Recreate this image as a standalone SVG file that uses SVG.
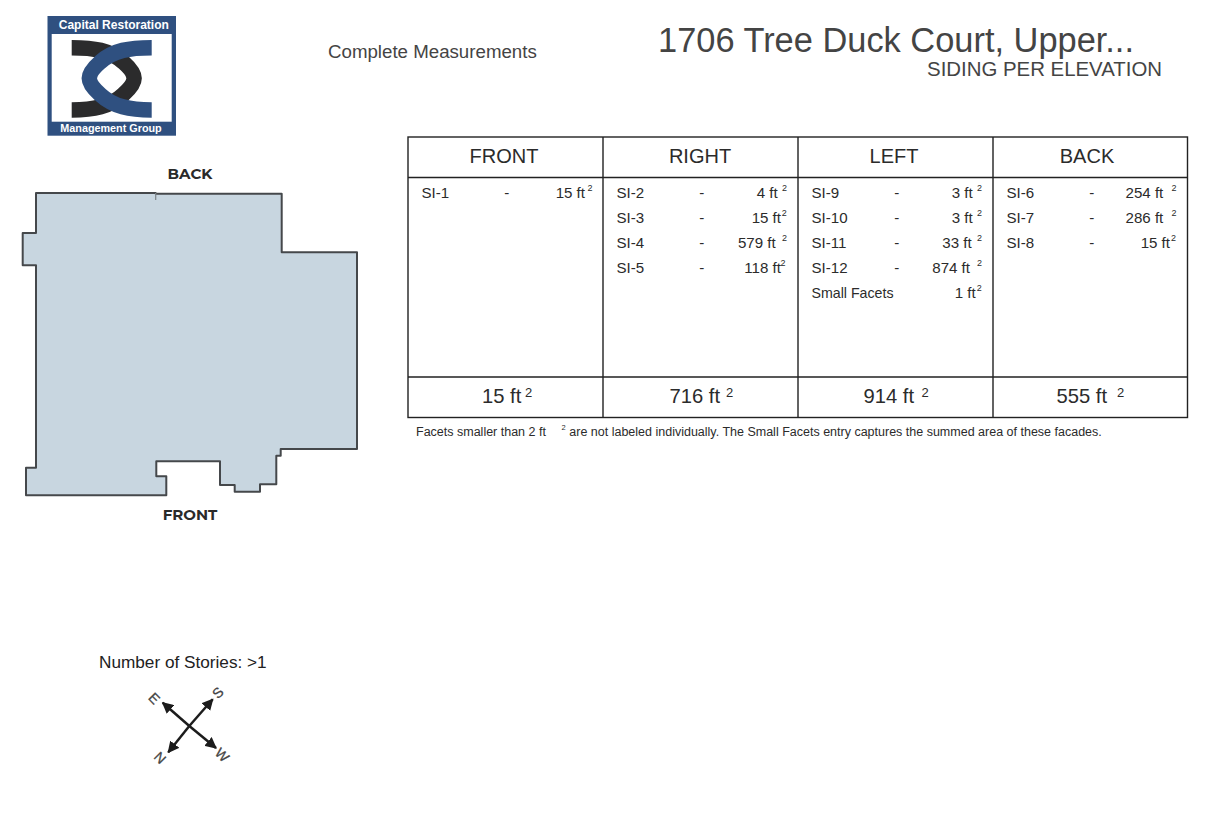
<svg xmlns="http://www.w3.org/2000/svg" width="1219" height="833" viewBox="0 0 1219 833">
<style>
text{font-family:"Liberation Sans",Arial,sans-serif;fill:#2b2b2b}
.hd{font-size:20px;text-anchor:middle}
.r{font-size:15.1px}
.e{font-size:15.1px;text-anchor:end}
.d{font-size:15.1px;text-anchor:middle}
.s{font-size:9px}
.t{font-size:20.2px}
.ts{font-size:13px}
.f{font-size:12.5px}
.grid{stroke:#222;stroke-width:1.4;fill:none}
.lbl{font-family:Montserrat,Inter,"Liberation Sans",sans-serif;font-weight:700;font-size:15px;text-anchor:middle;fill:#2a2a2a}
.cp{font-size:14px;text-anchor:middle;fill:#444;stroke:#444;stroke-width:.3}
.arm{stroke:#1c1c1c;stroke-width:2.5;fill:none;marker-end:url(#ah)}
</style>
<defs>
<marker id="ah" viewBox="0 0 10 10" refX="9" refY="5" markerWidth="4.6" markerHeight="4.6" orient="auto"><path d="M0,0L10,5L0,10z" fill="#1c1c1c"/></marker>
</defs>
<rect width="1219" height="833" fill="#fff"/>
<g id="logo">
<rect x="47.5" y="16" width="128.5" height="119.7" fill="#2f5080"/>
<rect x="51.7" y="34" width="120" height="87.7" fill="#fff"/>
<path d="M71.7,47.7C93.4,47.7 110.1,50 123.4,62.300Q134.1,71.7 134.1,78.3Q134.1,85 123.4,94.300C110.1,106.7 93.4,110 71.7,110" fill="none" stroke="#2b2b2c" stroke-width="15.500"/>
<path d="M151.7,47.7C130,47.7 113.3,50 100,62.300Q89.3,71.7 89.3,78.3Q89.3,85 100,94.300C113.3,106.7 130,110 151.700,110" fill="none" stroke="#2f5080" stroke-width="15.500"/>
<text x="113.800" y="29" font-size="12" font-weight="700" text-anchor="middle" style="fill:#fff">Capital Restoration</text>
<text x="111" y="132" font-size="10.800" font-weight="700" text-anchor="middle" style="fill:#fff">Management Group</text>
</g>
<g id="header">
<text x="328" y="58" font-size="18.700" style="fill:#444">Complete Measurements</text>
<text x="658" y="52" font-size="34.400" style="fill:#444">1706 Tree Duck Court, Upper...</text>
<text x="1162" y="76" font-size="20.400" text-anchor="end" style="fill:#444">SIDING PER ELEVATION</text>
</g>
<g id="plan">
<path d="M36,193H155.7V193.7H281.7V252.3H357V449H280.7V455.7H276.3V484.3H260V491.7H234.7V485H220V461.3H156.3V476.3H166.3V495.3H26V467.7H36V265.3H22.7V233H36Z" fill="#c8d6e0" stroke="#45484b" stroke-width="2" stroke-linejoin="round"/>
<path d="M155.7,193V200" stroke="#7c8388" stroke-width="1.2" fill="none"/>
<text x="190" y="179" class="lbl">BACK</text>
<text x="190" y="520" class="lbl">FRONT</text>
</g>
<g id="stories"><text x="99" y="668" font-size="17.200" style="fill:#222">Number of Stories: &gt;1</text></g>
<g id="compass">
<path class="arm" d="M189.3,726L162.7,702.700"/>
<path class="arm" d="M189.3,726L212.7,699.300"/>
<path class="arm" d="M189.3,726L216,748"/>
<path class="arm" d="M189.3,726L168.300,752.300"/>
<text class="cp" transform="translate(154.300,698.300) rotate(45)" y="5">E</text>
<text class="cp" transform="translate(217.700,692.700) rotate(-45)" y="5">S</text>
<text class="cp" transform="translate(160,758) rotate(-135)" y="5">N</text>
<text class="cp" transform="translate(222.300,755) rotate(45)" y="5">W</text>
</g>
<g id="table">
<rect class="grid" x="408" y="137" width="779.500" height="280.500"/>
<path class="grid" d="M408,177.500H1187.500M408,377H1187.500M603,137V417.500M798,137V417.500M993,137V417.500"/>
<text class="hd" x="504" y="163">FRONT</text>
<text class="hd" x="700" y="163">RIGHT</text>
<text class="hd" x="894" y="163">LEFT</text>
<text class="hd" x="1087" y="163">BACK</text>
</g>
<g id="col-front">
<text class="r" x="421.500" y="197.500">SI-1</text><text class="d" x="506.700" y="197.500">-</text><text class="e" x="585" y="197.500">15 ft</text><text class="s" x="587.500" y="191">2</text>
</g>
<g id="col-right">
<text class="r" x="616.500" y="197.500">SI-2</text><text class="d" x="701.700" y="197.500">-</text><text class="e" x="777.700" y="197.500">4 ft</text><text class="s" x="782" y="191">2</text>
<text class="r" x="616.500" y="222.500">SI-3</text><text class="d" x="701.700" y="222.500">-</text><text class="e" x="781" y="222.500">15 ft</text><text class="s" x="781.700" y="216">2</text>
<text class="r" x="616.500" y="247.500">SI-4</text><text class="d" x="701.700" y="247.500">-</text><text class="e" x="775.700" y="247.500">579 ft</text><text class="s" x="782" y="241">2</text>
<text class="r" x="616.500" y="272.500">SI-5</text><text class="d" x="701.700" y="272.500">-</text><text class="e" x="781" y="272.500">118 ft</text><text class="s" x="780.500" y="266">2</text>
</g>
<g id="col-left">
<text class="r" x="811.500" y="197.500">SI-9</text><text class="d" x="896.700" y="197.500">-</text><text class="e" x="972.700" y="197.500">3 ft</text><text class="s" x="977" y="191">2</text>
<text class="r" x="811.500" y="222.500">SI-10</text><text class="d" x="896.700" y="222.500">-</text><text class="e" x="972.700" y="222.500">3 ft</text><text class="s" x="977" y="216">2</text>
<text class="r" x="811.500" y="247.500">SI-11</text><text class="d" x="896.700" y="247.500">-</text><text class="e" x="971.700" y="247.500">33 ft</text><text class="s" x="977" y="241">2</text>
<text class="r" x="811.500" y="272.500">SI-12</text><text class="d" x="896.700" y="272.500">-</text><text class="e" x="970" y="272.500">874 ft</text><text class="s" x="977" y="266">2</text>
<text x="811.500" y="297.500" font-size="14.200">Small Facets</text><text class="e" x="975.700" y="297.500">1 ft</text><text class="s" x="976.700" y="291">2</text>
</g>
<g id="col-back">
<text class="r" x="1006.500" y="197.500">SI-6</text><text class="d" x="1091.700" y="197.500">-</text><text class="e" x="1163.300" y="197.500">254 ft</text><text class="s" x="1171.500" y="191">2</text>
<text class="r" x="1006.500" y="222.500">SI-7</text><text class="d" x="1091.700" y="222.500">-</text><text class="e" x="1163.300" y="222.500">286 ft</text><text class="s" x="1171.500" y="216">2</text>
<text class="r" x="1006.500" y="247.500">SI-8</text><text class="d" x="1091.700" y="247.500">-</text><text class="e" x="1170" y="247.500">15 ft</text><text class="s" x="1171" y="241">2</text>
</g>
<g id="totals">
<text class="t" x="482" y="403">15 ft</text><text class="ts" x="525" y="397">2</text>
<text class="t" x="669.500" y="403">716 ft</text><text class="ts" x="726" y="397">2</text>
<text class="t" x="863.500" y="403">914 ft</text><text class="ts" x="921.500" y="397">2</text>
<text class="t" x="1056.500" y="403">555 ft</text><text class="ts" x="1117" y="397">2</text>
</g>
<g id="note">
<text class="f" x="416" y="435.500">Facets smaller than 2 ft</text>
<text x="561.500" y="430" font-size="7.500">2</text>
<text class="f" x="569.300" y="435.500">are not labeled individually. The Small Facets entry captures the summed area of these facades.</text>
</g>
</svg>
